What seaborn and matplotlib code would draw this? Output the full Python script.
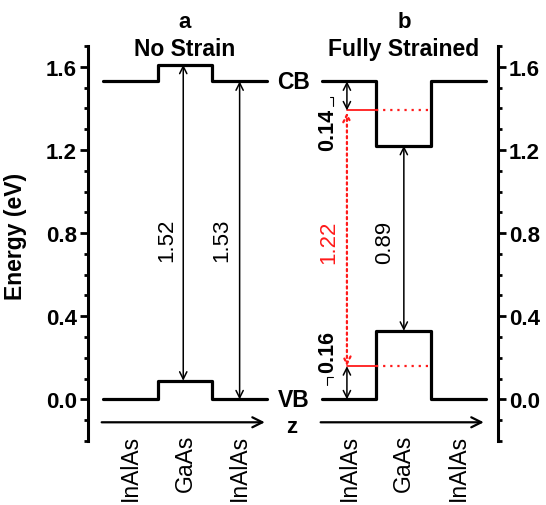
import numpy as np
import pandas as pd
import seaborn as sns
import matplotlib.pyplot as plt
from matplotlib.ticker import MultipleLocator, FormatStrFormatter

sns.set_theme(style="white")
plt.rcParams['font.family'] = ['Liberation Sans', 'DejaVu Sans']
plt.rcParams.update({"text.color": "black", "axes.labelcolor": "black",
                     "ytick.color": "black", "xtick.color": "black"})

# Layer sequence along the growth direction z
layers = ["InAlAs", "GaAs", "InAlAs"]
panel_tags = ["a", "b"]
panel_titles = ["No Strain", "Fully Strained"]

# Band edges (eV) per layer
cb_no_strain = [1.53, 1.61, 1.53]
vb_no_strain = [0.00, 0.09, 0.00]
cb_strained = [1.53, 1.22, 1.53]
vb_strained = [0.00, 0.33, 0.00]

# Band gaps and offsets (eV)
gap_gaas_free = 1.52
gap_inalas_free = 1.53
gap_gaas_strained = 0.89
gap_inalas_strained = 1.22
cb_offset = 0.14
vb_offset = 0.16

y_ticks = [0.0, 0.4, 0.8, 1.2, 1.6]

PANEL_SHIFT = 4  # z-offset of the second panel (in layer widths)


def step_rows(levels, x0, name):
    rows = []
    for i, e in enumerate(levels):
        rows.append((x0 + i, e, name))
        rows.append((x0 + i + 1, e, name))
    return rows


rows = []
rows += step_rows(cb_no_strain, 0, "cb_a")
rows += step_rows(vb_no_strain, 0, "vb_a")
rows += step_rows(cb_strained, PANEL_SHIFT, "cb_b")
rows += step_rows(vb_strained, PANEL_SHIFT, "vb_b")
bands = pd.DataFrame(rows, columns=["z", "E", "profile"])

fig = plt.figure(figsize=(5.46, 5.06), dpi=100)
ax = fig.add_axes([88 / 546, 64 / 506, 410 / 546, 395 / 506])

sns.lineplot(data=bands, x="z", y="E", units="profile", estimator=None,
             sort=False, color="black", linewidth=2.3, ax=ax, legend=False)

ax.set_xlim(-0.27, 7.22)
ax.set_ylim(-0.2, 1.7)

# axes styling: left and right energy scales only
for side in ["top", "bottom"]:
    ax.spines[side].set_visible(False)
for side in ["left", "right"]:
    ax.spines[side].set_visible(True)
    ax.spines[side].set_linewidth(2.2)
    ax.spines[side].set_color("black")
ax.set_xticks([])
ax.set_xlabel("")
ax.yaxis.set_major_locator(plt.FixedLocator(y_ticks))
ax.yaxis.set_minor_locator(MultipleLocator(0.1))
ax.yaxis.set_major_formatter(FormatStrFormatter("%.1f"))
ax.tick_params(axis="y", which="both", left=True, right=True,
               labelleft=True, labelright=True, direction="out",
               width=2.0, color="black", labelcolor="black")
ax.tick_params(axis="y", which="major", length=5.5, pad=2.5,
               labelsize=16)
ax.tick_params(axis="y", which="minor", length=3)
for lab in ax.get_yticklabels():
    lab.set_fontweight("bold")
ax.set_ylabel("Energy (eV)", fontsize=16.5, fontweight="bold",
              color="black")
ax.yaxis.set_label_coords(-0.148, 0.52)
ax.grid(False)

bold = dict(fontweight="bold", color="black")
arrow_kw = dict(arrowstyle="<->", color="black", lw=1.1,
                shrinkA=0, shrinkB=0, mutation_scale=13)


def gap_arrow(x, lo, hi, **kw):
    props = dict(arrow_kw)
    props.update(kw)
    ax.annotate("", xy=(x, hi), xytext=(x, lo), arrowprops=props)


# panel a: unstrained gaps
x_gaas_a = 1.47
x_inalas_a = 2.5
gap_arrow(x_gaas_a, vb_no_strain[1], vb_no_strain[1] + gap_gaas_free)
gap_arrow(x_inalas_a, vb_no_strain[2], vb_no_strain[2] + gap_inalas_free)
ax.text(1.17, 0.77, f"{gap_gaas_free:.2f}", rotation=90, ha="center",
        va="center", fontsize=16, color="black")
ax.text(2.18, 0.77, f"{gap_inalas_free:.2f}", rotation=90, ha="center",
        va="center", fontsize=16, color="black")

# panel b: strained gaps
x_gaas_b = PANEL_SHIFT + 1.5
x_inalas_b = PANEL_SHIFT + 0.46
gap_arrow(x_gaas_b, vb_strained[1], vb_strained[1] + gap_gaas_strained)
ax.text(5.14, 0.76, f"{gap_gaas_strained:.2f}", rotation=90, ha="center",
        va="center", fontsize=16, color="black")

red = "#ff1a1a"
cb_red = cb_strained[0] - cb_offset
vb_red = vb_strained[0] + vb_offset
gap_arrow(x_inalas_b, vb_red, vb_red + gap_inalas_strained,
          color=red, linestyle=(0, (1, 1.6)), lw=1.6)
ax.text(4.12, 0.76, f"{gap_inalas_strained:.2f}", rotation=90, ha="center",
        va="center", fontsize=16, color=red)

# strained InAlAs band edges extended under the GaAs well
for lvl in (cb_red, vb_red):
    ax.plot([x_inalas_b, PANEL_SHIFT + 1], [lvl, lvl], color=red, lw=1.3)
    ax.plot([PANEL_SHIFT + 1, PANEL_SHIFT + 2], [lvl, lvl], color=red,
            lw=1.6, linestyle=(0, (1, 2.2)))

# strain shifts of the InAlAs band edges
gap_arrow(x_inalas_b, cb_red, cb_strained[0])
gap_arrow(x_inalas_b, vb_strained[0], vb_red)
ax.text(4.1, 1.30, f"{cb_offset:.2f}", rotation=90, ha="center",
        va="center", fontsize=15.5, **bold)
ax.text(4.1, 0.235, f"{vb_offset:.2f}", rotation=90, ha="center",
        va="center", fontsize=15.5, **bold)
ax.plot([4.15, 4.21, 4.21], [1.455, 1.455, 1.41], color="black", lw=0.8)
ax.plot([4.21, 4.10, 4.10], [0.106, 0.106, 0.07], color="black", lw=0.8)

# band labels and growth axis
ax.text(3.48, cb_no_strain[2], "CB", ha="center", va="center",
        fontsize=16.5, **bold)
ax.text(3.48, vb_no_strain[2], "VB", ha="center", va="center",
        fontsize=16.5, **bold)
ax.text(3.45, -0.13, "z", ha="center", va="center", fontsize=16, **bold)
z_arrow = dict(arrowstyle="->", color="black", lw=1.6, shrinkA=0,
               shrinkB=0, mutation_scale=18)
for x0 in (0, PANEL_SHIFT):
    ax.annotate("", xy=(x0 + 2.96, -0.11), xytext=(x0 - 0.02, -0.11),
                arrowprops=z_arrow)

# layer names and panel titles
for x0, tag, title in zip((0, PANEL_SHIFT), panel_tags, panel_titles):
    for i, name in enumerate(layers):
        ax.text(x0 + i + 0.5, -0.165, name, rotation=90, ha="center",
                va="top", fontsize=16.5, color="black")
    ax.text(x0 + 1.5, 1.82, tag, ha="center", va="center",
            fontsize=16, **bold)
    ax.text(x0 + 1.5, 1.687, title, ha="center", va="center",
            fontsize=16.5, **bold)

fig.savefig("out.png", dpi=100)
